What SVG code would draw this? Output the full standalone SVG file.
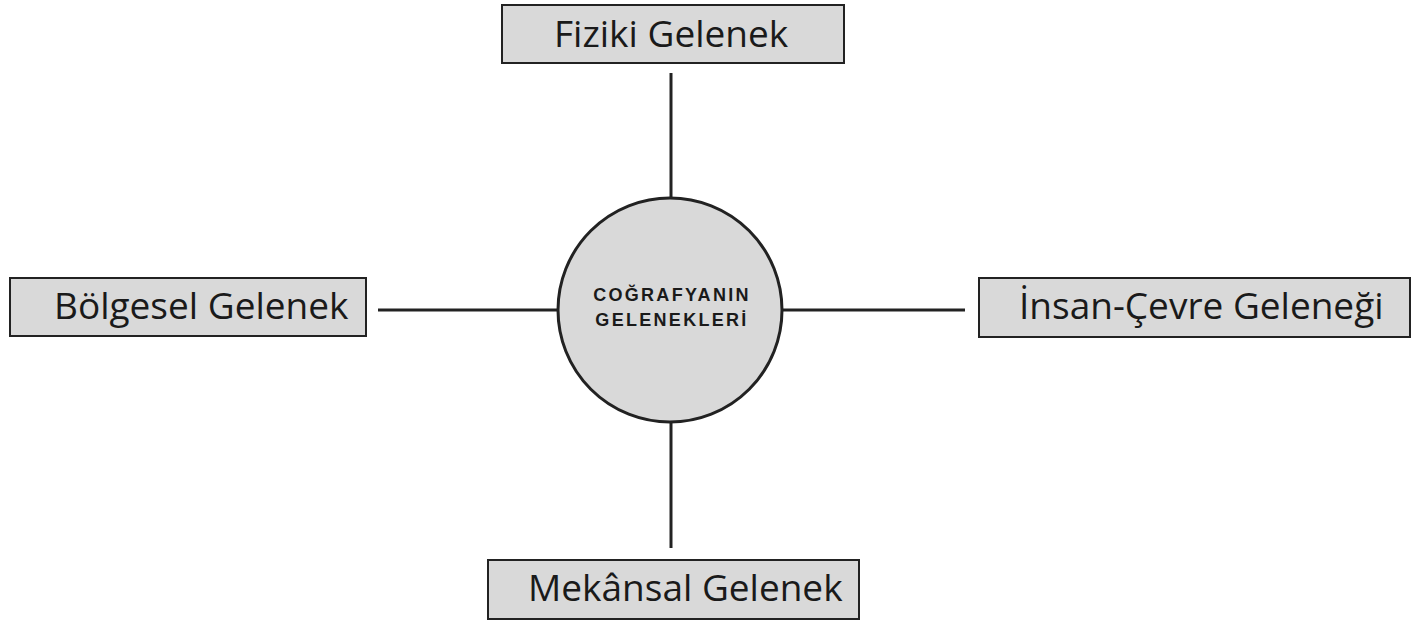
<svg xmlns="http://www.w3.org/2000/svg" width="1412" height="620" viewBox="0 0 1412 620">
<style>
.box{fill:#d9d9d9;stroke:#222;stroke-width:2}
.lbl{font-family:"Open Sans","Noto Sans",sans-serif;font-size:37px;fill:#1a1a1a}
.ctr{font-family:"Liberation Sans",Arial,sans-serif;font-size:18px;font-weight:bold;fill:#1a1a1a;letter-spacing:2.3px}
.conn{stroke:#222;stroke-width:3;fill:none}
</style>
<rect width="1412" height="620" fill="#fff"/>
<g id="connectors">
<line class="conn" x1="671" y1="73" x2="671" y2="204"/>
<line class="conn" x1="671" y1="416" x2="671" y2="548"/>
<line class="conn" x1="378" y1="310" x2="559" y2="310"/>
<line class="conn" x1="782" y1="310" x2="965" y2="310"/>
</g>
<g id="center">
<circle cx="670" cy="310" r="112" fill="#d9d9d9" stroke="#222" stroke-width="3"/>
<text class="ctr" x="672" y="301" text-anchor="middle">COĞRAFYANIN</text>
<text class="ctr" x="672" y="326" text-anchor="middle">GELENEKLERİ</text>
</g>
<g id="fiziki">
<rect class="box" x="502" y="5" width="342" height="58"/>
<text class="lbl" x="554" y="47">Fiziki Gelenek</text>
</g>
<g id="bolgesel">
<rect class="box" x="10" y="278" width="356" height="58"/>
<text class="lbl" x="54" y="319">Bölgesel Gelenek</text>
</g>
<g id="insan">
<rect class="box" x="979" y="278" width="431" height="59"/>
<text class="lbl" x="1019" y="319">İnsan-Çevre Geleneği</text>
</g>
<g id="mekansal">
<rect class="box" x="488" y="560" width="371" height="59"/>
<text class="lbl" x="528" y="601">Mekânsal Gelenek</text>
</g>
</svg>
